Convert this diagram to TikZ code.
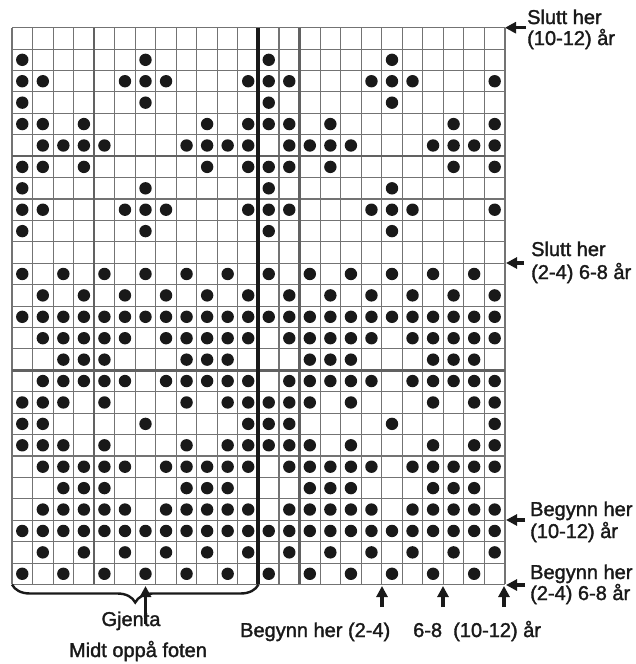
\documentclass[tikz,border=0pt]{standalone}
\usepackage{fontspec}
\setmainfont{Liberation Sans}[BoldFont={Liberation Sans},BoldFeatures={FakeBold=1.6}]
\usetikzlibrary{arrows.meta,decorations.pathreplacing}
\begin{document}
\begin{tikzpicture}[x=1pt,y=-1pt,
  thinline/.style={draw=black!55, line width=1.1pt},
  thickgray/.style={draw=black!62, line width=2.4pt},
  thickblack/.style={draw=black!90, line width=4pt},
  dot/.style={fill=black!90},
  lbl/.style={font=\fontsize{20}{20}\selectfont\bfseries, text=black!90, inner sep=0pt, anchor=base west},
  lblc/.style={font=\fontsize{20}{20}\selectfont\bfseries, text=black!90, inner sep=0pt, anchor=base},
  arr/.style={draw=black!90, line width=3.2pt, -{Triangle[length=11pt,width=11pt]}},
  bracestyle/.style={draw=black!90, line width=2.4pt, decorate, decoration={brace, mirror, amplitude=18pt}}]
\useasboundingbox (0,0) rectangle (636,664);
\def\gx{12}\def\gw{20.54}\def\gy{27.7}\def\gh{21.415}
% thin grid
\foreach \i in {0,...,24} \draw[thinline] ({\gx+\i*\gw},\gy) -- ({\gx+\i*\gw},{\gy+26*\gh});
\foreach \j in {0,...,26} \draw[thinline] (\gx,{\gy+\j*\gh}) -- ({\gx+24*\gw},{\gy+\j*\gh});
% thick gray
\foreach \i in {4,14} \draw[thickgray] ({\gx+\i*\gw},\gy) -- ({\gx+\i*\gw},{\gy+26*\gh});
\foreach \j in {6,16} \draw[thickgray] (\gx,{\gy+\j*\gh}) -- ({\gx+24*\gw},{\gy+\j*\gh});
% dots
\foreach \r/\cols in {1/{0,6},2/{0,1,5,6,7,11},3/{0,6},4/{0,1,3,9,11},5/{1,2,3,4,8,9,10,11},
  6/{0,1,3,9,11},7/{0,6},8/{0,1,5,6,7,11},9/{0,6},11/{0,2,4,6,8,10},12/{1,3,5,7,9,11},
  13/{0,...,11},14/{1,2,3,4,5,7,8,9,10,11},15/{2,3,4,8,9,10},16/{1,2,3,4,5,7,8,9,10,11},
  17/{0,1,2,4,8,10,11},18/{0,1,6,11},19/{0,1,2,4,8,10,11},20/{1,2,3,4,5,7,8,9,10,11},
  21/{2,3,4,8,9,10},22/{1,2,3,4,5,7,8,9,10,11},23/{0,...,11},24/{1,3,5,7,9,11},25/{0,2,4,6,8,10}}
  {\foreach \c in \cols {\foreach \k in {0,12}
    {\fill[dot] ({\gx+(\c+\k+0.5)*\gw},{\gy+(\r+0.5)*\gh}) circle[radius=6.2pt];}}}
% thick black line
\coordinate (bt) at ({\gx+12*\gw},\gy);
\coordinate (bb) at ({\gx+12*\gw},{\gy+26*\gh});
\draw[thickblack] (bt) -- (bb);
% brace
\coordinate (brL) at (\gx,{\gy+26*\gh});
\draw[bracestyle] (brL) -- (bb);
% right labels
\node[lbl] (s1a) at (527,24) {Slutt her};
\node[lbl] (s1b) at (527,45) {(10-12) år};
\node[lbl] (s2a) at (531,256) {Slutt her};
\node[lbl] (s2b) at (531,279) {(2-4) 6-8 år};
\node[lbl] (b1a) at (530,516) {Begynn her};
\node[lbl] (b1b) at (530,538) {(10-12) år};
\node[lbl] (b2a) at (530,579) {Begynn her};
\node[lbl] (b2b) at (530,600) {(2-4) 6-8 år};
\coordinate (a1t) at (526,27.7);  \coordinate (a1h) at (505,27.7);
\coordinate (a2t) at (524,263);   \coordinate (a2h) at (506,263);
\coordinate (a3t) at (525,520);   \coordinate (a3h) at (506,520);
\coordinate (a4t) at (525,585);   \coordinate (a4h) at (506,585);
\draw[arr] (a1t) -- (a1h);
\draw[arr] (a2t) -- (a2h);
\draw[arr] (a3t) -- (a3h);
\draw[arr] (a4t) -- (a4h);
% bottom labels
\node[lbl] (beg) at (240,637) {Begynn her (2-4)};
\node[lbl] (s68) at (413,637) {6-8};
\node[lbl] (s1012) at (453,637) {(10-12) år};
\node[lblc] (gj) at (131,626) {Gjenta};
\node[lblc] (midt) at (138,657) {Midt oppå foten};
\coordinate (u1t) at (382,607); \coordinate (u1h) at (382,586);
\coordinate (u2t) at (443,607); \coordinate (u2h) at (443,586);
\coordinate (u3t) at (504,607); \coordinate (u3h) at (504,586);
\coordinate (umt) at ({\gx+6.5*\gw},624); \coordinate (umh) at ({\gx+6.5*\gw},586);
\draw[arr] (u1t) -- (u1h);
\draw[arr] (u2t) -- (u2h);
\draw[arr] (u3t) -- (u3h);
\draw[arr] (umt) -- (umh);
\end{tikzpicture}
\end{document}
